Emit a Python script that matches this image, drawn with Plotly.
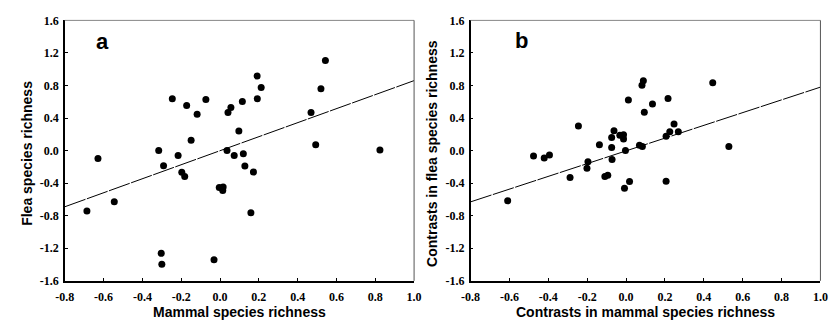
import plotly.graph_objects as go

# ---- data ----
a_x = [-0.686, -0.629, -0.545, -0.316, -0.291, -0.303, -0.300, -0.246, -0.216, -0.197,
       -0.182, -0.172, -0.149, -0.118, -0.073, -0.031, -0.004, 0.016, 0.014, 0.036,
       0.041, 0.056, 0.073, 0.097, 0.115, 0.120, 0.128, 0.159, 0.172, 0.191,
       0.192, 0.212, 0.469, 0.493, 0.520, 0.543, 0.824]
a_y = [-0.743, -0.098, -0.629, 0.000, -0.185, -1.262, -1.395, 0.637, -0.059, -0.267,
       -0.318, 0.554, 0.126, 0.448, 0.629, -1.340, -0.452, -0.448, -0.491, 0.000,
       0.468, 0.531, -0.059, 0.240, 0.605, -0.039, -0.189, -0.763, -0.263, 0.916,
       0.637, 0.774, 0.468, 0.071, 0.759, 1.108, 0.008]

b_x = [-0.609, -0.476, -0.421, -0.394, -0.288, -0.245, -0.201, -0.196, -0.137, -0.109,
       -0.094, -0.074, -0.074, -0.072, -0.062, -0.032, -0.013, -0.013, -0.008, -0.003,
       0.012, 0.018, 0.069, 0.084, 0.082, 0.089, 0.094, 0.136, 0.206, 0.206,
       0.216, 0.225, 0.247, 0.269, 0.446, 0.529]
b_y = [-0.617, -0.067, -0.090, -0.055, -0.330, 0.303, -0.216, -0.138, 0.071, -0.318,
       -0.303, 0.161, 0.039, -0.110, 0.244, 0.189, 0.196, 0.142, -0.464, 0.000,
       0.621, -0.381, 0.067, 0.051, 0.802, 0.857, 0.472, 0.574, 0.177, -0.377,
       0.641, 0.232, 0.326, 0.232, 0.833, 0.051]

fit_a_x = [-0.8, 1.0]
fit_a_y = [-0.69, 0.86]
fit_b_x = [-0.8, 1.0]
fit_b_y = [-0.63, 0.78]

x_tickvals = [-0.8, -0.6, -0.4, -0.2, 0.0, 0.2, 0.4, 0.6, 0.8, 1.0]
x_ticktext = ["-0.8", "-0.6", "-0.4", "-0.2", "0.0", "0.2", "0.4", "0.6", "0.8", "1.0"]
y_tickvals = [-1.6, -1.2, -0.8, -0.4, 0.0, 0.4, 0.8, 1.2, 1.6]
y_ticktext = ["-1.6", "-1.2", "-0.8", "-0.4", "0.0", "0.4", "0.8", "1.2", "1.6"]

x_title_a = "Mammal species richness"
y_title_a = "Flea species richness"
x_title_b = "Contrasts in mammal species richness"
y_title_b = "Contrasts in flea species richness"

# ---- figure ----
W, H = 834, 329
fig = go.Figure()

marker = dict(color="black", size=7, line=dict(width=0))
line_style = dict(color="black", width=1, dash="22px,1.5px")

fig.add_trace(go.Scatter(x=fit_a_x, y=fit_a_y, mode="lines", line=line_style,
                         xaxis="x", yaxis="y", hoverinfo="skip"))
fig.add_trace(go.Scatter(x=a_x, y=a_y, mode="markers", marker=marker, xaxis="x", yaxis="y"))
fig.add_trace(go.Scatter(x=fit_b_x, y=fit_b_y, mode="lines", line=line_style,
                         xaxis="x2", yaxis="y2", hoverinfo="skip"))
fig.add_trace(go.Scatter(x=b_x, y=b_y, mode="markers", marker=marker, xaxis="x2", yaxis="y2"))

tick_font = dict(family="Liberation Serif", size=12, color="black", weight="bold")
y_dom = [(H - 286) / H, (H - 14) / H]
xa_dom = [56 / W, 413 / W]
xb_dom = [470.7 / W, 828.3 / W]

common_x = dict(range=[-0.8, 1.0], tickvals=x_tickvals, ticktext=x_ticktext,
                showgrid=False, zeroline=False, showline=True, linecolor="black",
                linewidth=1.5, ticks="inside", ticklen=3, tickcolor="black",
                tickwidth=1, tickfont=tick_font, fixedrange=True, ticklabelstandoff=4)
common_y = dict(range=[-1.6, 1.6], tickvals=y_tickvals, ticktext=y_ticktext,
                showgrid=False, zeroline=False, showline=True, linecolor="black",
                linewidth=1.5, ticks="inside", ticklen=3, tickcolor="black",
                tickwidth=1, tickfont=tick_font, fixedrange=True, ticklabelstandoff=2)

fig.update_layout(
    width=W, height=H,
    margin=dict(l=0, r=0, t=0, b=0),
    paper_bgcolor="white", plot_bgcolor="white",
    showlegend=False,
    xaxis=dict(domain=xa_dom, anchor="y", **common_x),
    yaxis=dict(domain=y_dom, anchor="x", **common_y),
    xaxis2=dict(domain=xb_dom, anchor="y2", **common_x),
    yaxis2=dict(domain=y_dom, anchor="x2", **common_y),
)

# top/right frame lines in gray
for xr, yr in (("x domain", "y domain"), ("x2 domain", "y2 domain")):
    fig.add_shape(type="line", xref=xr, yref=yr, x0=0, x1=1, y0=1, y1=1,
                  line=dict(color="#888888", width=1))
    fig.add_shape(type="line", xref=xr, yref=yr, x0=1, x1=1, y0=0, y1=1,
                  line=dict(color="#555555", width=1))

title_font = dict(family="Liberation Sans", size=14, color="black")
ann = []
ann.append(dict(text="<b>%s</b>" % x_title_a, xref="x domain", yref="paper", x=0.5,
                y=(H - 319) / H, showarrow=False, font=title_font, xanchor="center", yanchor="middle"))
ann.append(dict(text="<b>%s</b>" % x_title_b, xref="x2 domain", yref="paper", x=0.5,
                y=(H - 319) / H, showarrow=False, font=title_font, xanchor="center", yanchor="middle"))
ann.append(dict(text="<b>%s</b>" % y_title_a, xref="paper", yref="y domain", x=18 / W,
                y=0.49, showarrow=False, font=title_font, textangle=-90,
                xanchor="center", yanchor="middle"))
ann.append(dict(text="<b>%s</b>" % y_title_b, xref="paper", yref="y2 domain", x=432 / W,
                y=0.49, showarrow=False, font=title_font, textangle=-90,
                xanchor="center", yanchor="middle"))
letter_font = dict(family="Liberation Sans", size=22, color="black")
ann.append(dict(text="<b>a</b>", xref="paper", yref="paper", x=95 / W, y=(H - 36) / H,
                showarrow=False, font=letter_font, xanchor="center", yanchor="middle"))
ann.append(dict(text="<b>b</b>", xref="paper", yref="paper", x=523 / W, y=(H - 35) / H,
                showarrow=False, font=letter_font, xanchor="center", yanchor="middle"))
fig.update_layout(annotations=ann)

fig.write_html("out.html")
